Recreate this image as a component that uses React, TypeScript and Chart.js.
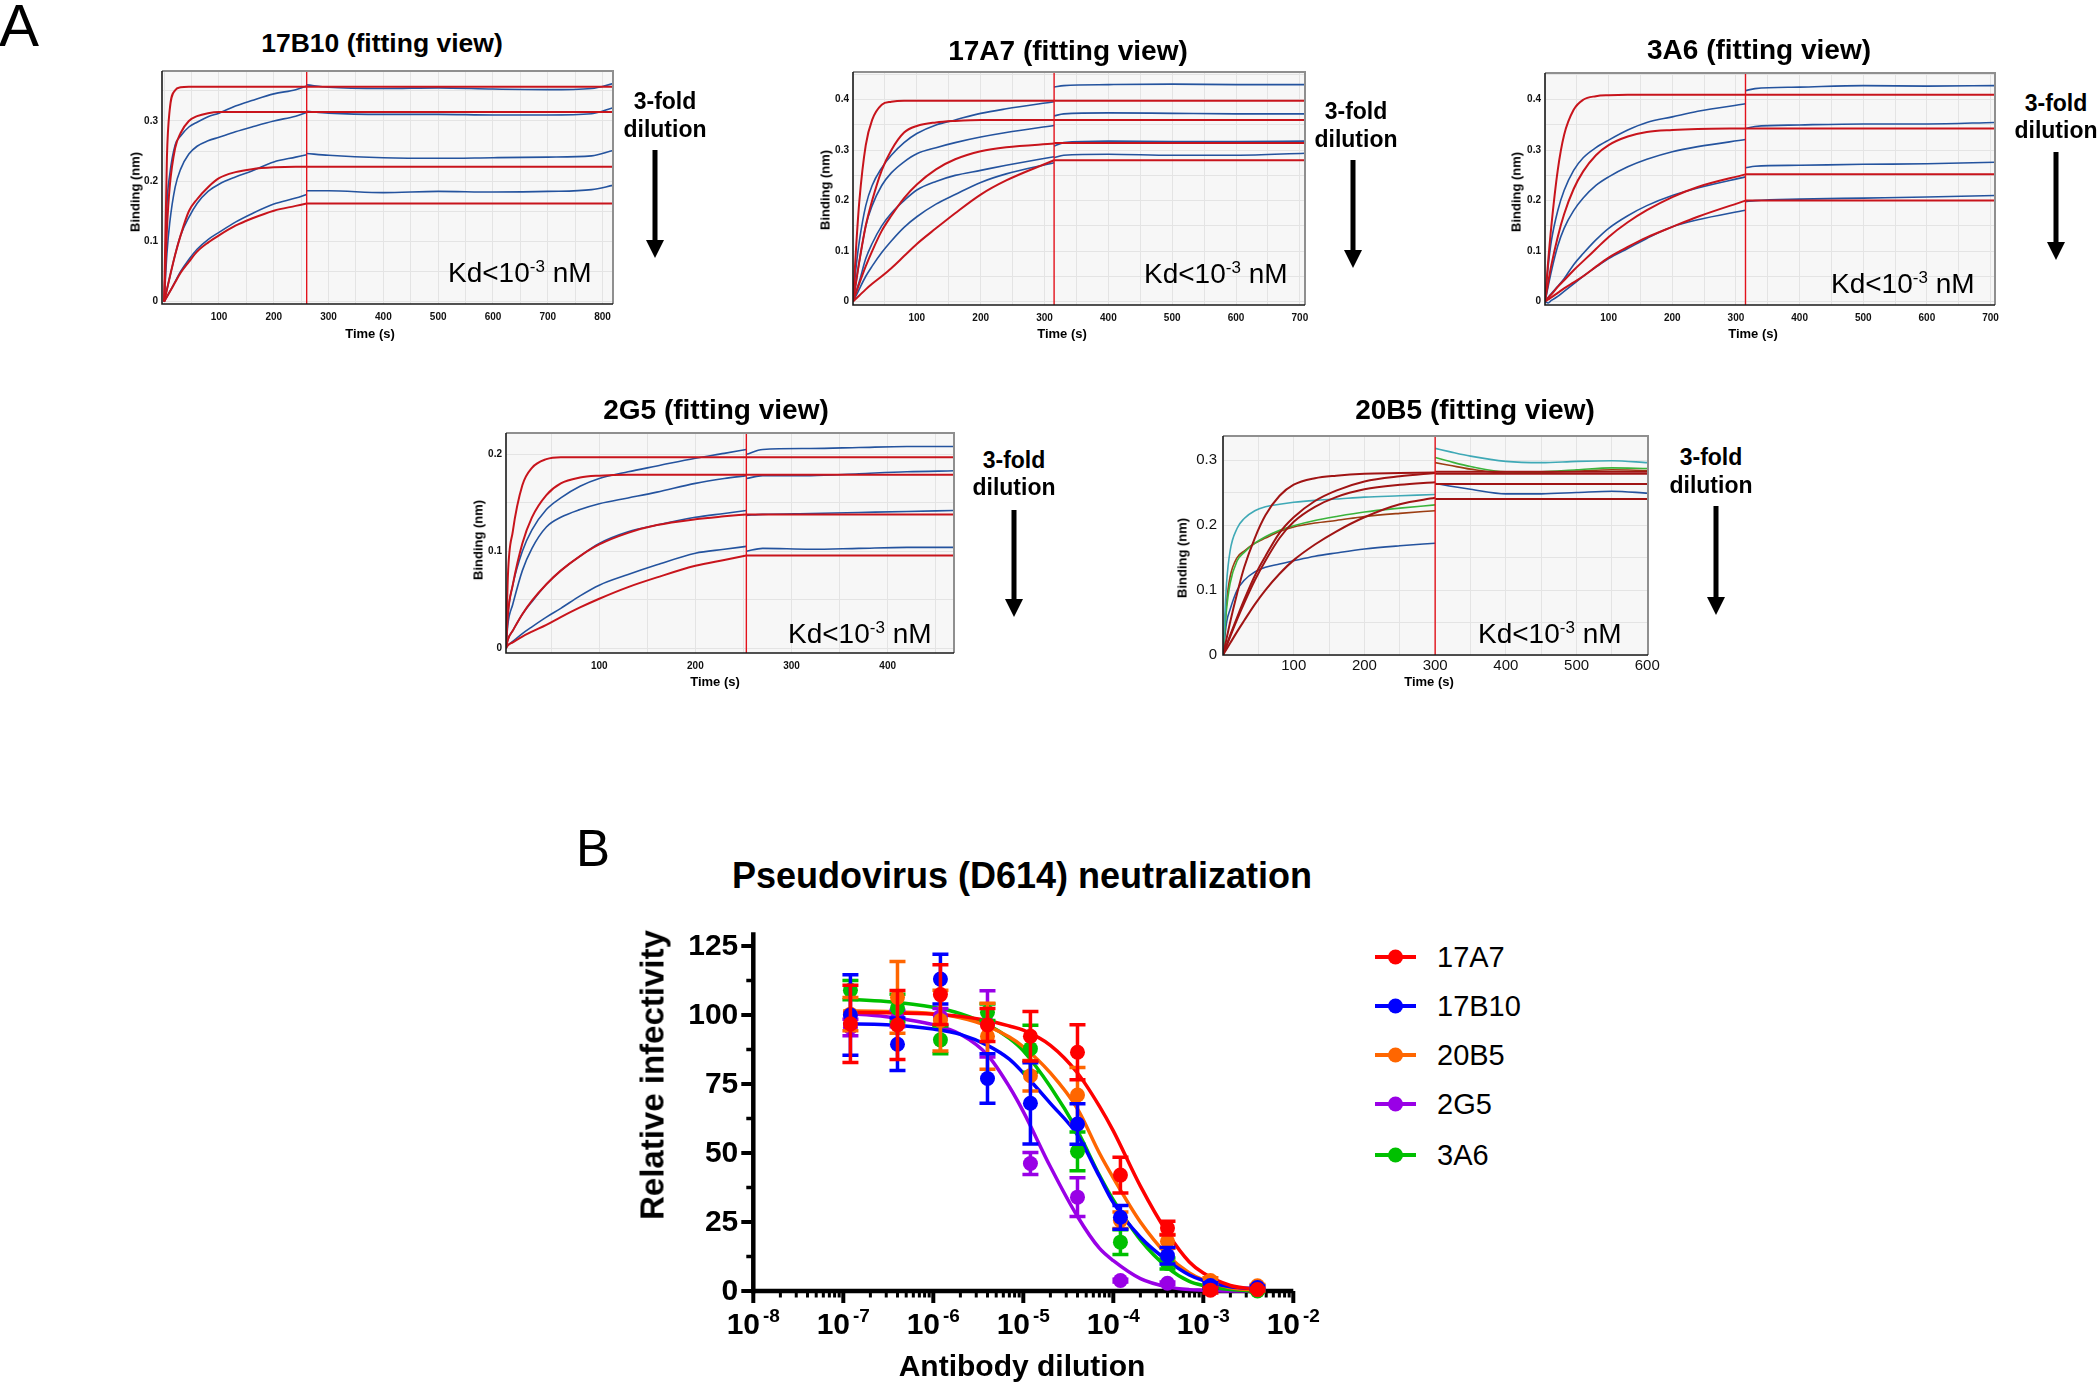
import React, { useEffect, useRef } from 'react';
import { Chart, registerables } from 'chart.js';
Chart.register(...registerables);

const FONT = "'Liberation Sans', Arial, Helvetica, sans-serif";
Chart.defaults.font.family = FONT;
Chart.defaults.color = '#000';

// ================= PANEL A DATA (sensorgrams) =================
// ---- 17B10 ----
const T_ASSOC_17B10 = [0, 5, 10, 20, 30, 45, 60, 80, 100, 130, 160, 200, 240, 260];
const FIT_17B10 = [
  [0, 0.24, 0.318, 0.351, 0.356, 0.357, 0.357, 0.357, 0.357, 0.357, 0.357, 0.357, 0.357, 0.357],
  [0, 0.12, 0.19, 0.255, 0.28, 0.3, 0.308, 0.313, 0.315, 0.315, 0.315, 0.315, 0.315, 0.315],
  [0, 0.02, 0.04, 0.078, 0.11, 0.15, 0.17, 0.19, 0.205, 0.215, 0.22, 0.223, 0.224, 0.224],
  [0, 0.008, 0.016, 0.032, 0.048, 0.066, 0.083, 0.098, 0.11, 0.126, 0.138, 0.151, 0.159, 0.163],
];
const TRACE_17B10 = [
  [0, 0.16, 0.21, 0.26, 0.275, 0.29, 0.298, 0.307, 0.313, 0.325, 0.334, 0.345, 0.352, 0.358],
  [0, 0.08, 0.13, 0.19, 0.22, 0.245, 0.258, 0.267, 0.273, 0.282, 0.29, 0.3, 0.308, 0.314],
  [0, 0.02, 0.04, 0.078, 0.11, 0.14, 0.163, 0.183, 0.195, 0.207, 0.217, 0.232, 0.24, 0.244],
  [0, 0.008, 0.016, 0.033, 0.05, 0.07, 0.087, 0.103, 0.115, 0.132, 0.146, 0.162, 0.172, 0.178],
];
const T_DISS_17B10 = [260, 300, 400, 500, 600, 700, 780, 819];
const TRACE_DISS_17B10 = [
  [0.36, 0.356, 0.354, 0.355, 0.353, 0.352, 0.354, 0.362],
  [0.316, 0.313, 0.311, 0.311, 0.31, 0.31, 0.312, 0.322],
  [0.246, 0.243, 0.239, 0.238, 0.239, 0.24, 0.242, 0.251],
  [0.184, 0.184, 0.181, 0.183, 0.182, 0.183, 0.186, 0.193],
];
const FIT_DISS_17B10 = [0.357, 0.315, 0.224, 0.163];
const STEP_17B10 = 260;

// ---- 17A7 ----
const T_ASSOC_17A7 = [0, 5, 10, 20, 30, 45, 60, 80, 100, 130, 160, 200, 240, 315];
const FIT_17A7 = [
  [0, 0.11, 0.2, 0.31, 0.36, 0.39, 0.396, 0.398, 0.398, 0.398, 0.398, 0.398, 0.398, 0.398],
  [0, 0.04, 0.08, 0.15, 0.2, 0.26, 0.3, 0.335, 0.348, 0.355, 0.358, 0.36, 0.36, 0.36],
  [0, 0.018, 0.036, 0.07, 0.1, 0.14, 0.17, 0.205, 0.232, 0.262, 0.282, 0.298, 0.306, 0.313],
  [0, 0.006, 0.012, 0.024, 0.035, 0.05, 0.066, 0.09, 0.114, 0.145, 0.175, 0.212, 0.24, 0.28],
];
const TRACE_17A7 = [
  [0, 0.07, 0.12, 0.19, 0.23, 0.265, 0.29, 0.315, 0.333, 0.35, 0.36, 0.373, 0.382, 0.396],
  [0, 0.04, 0.08, 0.15, 0.19, 0.23, 0.255, 0.277, 0.293, 0.305, 0.315, 0.326, 0.335, 0.349],
  [0, 0.02, 0.04, 0.085, 0.115, 0.15, 0.175, 0.2, 0.221, 0.238, 0.25, 0.26, 0.27, 0.287],
  [0, 0.012, 0.025, 0.05, 0.07, 0.097, 0.12, 0.147, 0.168, 0.193, 0.212, 0.236, 0.253, 0.275],
];
const T_DISS_17A7 = [315, 330, 400, 500, 600, 708];
const TRACE_DISS_17A7 = [
  [0.425, 0.428, 0.43, 0.431, 0.43, 0.43],
  [0.368, 0.372, 0.374, 0.373, 0.372, 0.372],
  [0.308, 0.315, 0.318, 0.317, 0.317, 0.318],
  [0.285, 0.29, 0.292, 0.29, 0.29, 0.294],
];
const FIT_DISS_17A7 = [0.398, 0.36, 0.314, 0.28];
const STEP_17A7 = 315;

// ---- 3A6 ----
const T_ASSOC_3A6 = [0, 5, 10, 20, 30, 45, 60, 80, 100, 130, 160, 200, 240, 315];
const FIT_3A6 = [
  [0, 0.08, 0.15, 0.26, 0.33, 0.38, 0.4, 0.407, 0.409, 0.41, 0.41, 0.41, 0.41, 0.41],
  [0, 0.038, 0.072, 0.128, 0.173, 0.223, 0.258, 0.29, 0.31, 0.327, 0.336, 0.34, 0.342, 0.343],
  [0, 0.007, 0.014, 0.029, 0.042, 0.062, 0.08, 0.104, 0.128, 0.157, 0.181, 0.207, 0.227, 0.252],
  [0, 0.004, 0.008, 0.017, 0.026, 0.038, 0.05, 0.069, 0.087, 0.108, 0.127, 0.148, 0.168, 0.2],
];
const TRACE_3A6 = [
  [0, 0.07, 0.12, 0.18, 0.22, 0.26, 0.285, 0.305, 0.32, 0.34, 0.355, 0.366, 0.377, 0.392],
  [0, 0.03, 0.06, 0.11, 0.145, 0.18, 0.205, 0.23, 0.247, 0.267, 0.282, 0.297, 0.307, 0.321],
  [0, 0.008, 0.016, 0.03, 0.045, 0.073, 0.095, 0.122, 0.145, 0.17, 0.19, 0.21, 0.225, 0.247],
  [0, -0.003, 0.002, 0.01, 0.02, 0.035, 0.05, 0.068, 0.085, 0.105, 0.125, 0.148, 0.162, 0.181],
];
const T_DISS_3A6 = [315, 330, 400, 500, 600, 707];
const TRACE_DISS_3A6 = [
  [0.418, 0.422, 0.425, 0.428, 0.427, 0.428],
  [0.343, 0.347, 0.35, 0.352, 0.352, 0.355],
  [0.265, 0.268, 0.27, 0.272, 0.273, 0.276],
  [0.198, 0.2, 0.203, 0.205, 0.207, 0.21],
];
const FIT_DISS_3A6 = [0.41, 0.343, 0.252, 0.2];
const STEP_3A6 = 315;

// ---- 2G5 ----
const T_ASSOC_2G5 = [3, 5, 10, 20, 30, 45, 60, 80, 100, 130, 160, 200, 230, 253];
const FIT_2G5 = [
  [0, 0.075, 0.12, 0.168, 0.186, 0.195, 0.197, 0.197, 0.197, 0.197, 0.197, 0.197, 0.197, 0.197],
  [0, 0.035, 0.065, 0.108, 0.135, 0.158, 0.17, 0.176, 0.178, 0.179, 0.179, 0.179, 0.179, 0.179],
  [0, 0.009, 0.018, 0.035, 0.049, 0.066, 0.08, 0.095, 0.107, 0.119, 0.127, 0.133, 0.136, 0.138],
  [0, 0.003, 0.006, 0.012, 0.017, 0.024, 0.032, 0.042, 0.051, 0.063, 0.073, 0.085, 0.091, 0.0955],
];
const TRACE_2G5 = [
  [0, 0.035, 0.065, 0.1, 0.122, 0.143, 0.155, 0.167, 0.175, 0.182, 0.188, 0.196, 0.201, 0.205],
  [0, 0.025, 0.045, 0.08, 0.103, 0.125, 0.135, 0.143, 0.149, 0.155, 0.161, 0.17, 0.175, 0.178],
  [0, 0.009, 0.018, 0.035, 0.048, 0.066, 0.08, 0.095, 0.108, 0.12, 0.127, 0.135, 0.139, 0.142],
  [0, 0.003, 0.007, 0.015, 0.022, 0.032, 0.041, 0.054, 0.065, 0.076, 0.086, 0.098, 0.102, 0.105],
];
const T_DISS_2G5 = [253, 270, 320, 370, 420, 469];
const TRACE_DISS_2G5 = [
  [0.2, 0.205, 0.206, 0.207, 0.208, 0.208],
  [0.175, 0.178, 0.178, 0.18, 0.182, 0.183],
  [0.137, 0.138, 0.139, 0.14, 0.141, 0.142],
  [0.1, 0.103, 0.102, 0.103, 0.104, 0.104],
];
const FIT_DISS_2G5 = [0.197, 0.179, 0.138, 0.0955];
const STEP_2G5 = 253;

// ---- 20B5 ----
const T_ASSOC_20B5 = [0, 5, 10, 20, 30, 45, 60, 80, 100, 130, 160, 200, 250, 300];
const FIT_20B5 = [
  [0, 0.025, 0.05, 0.095, 0.135, 0.18, 0.215, 0.245, 0.262, 0.272, 0.276, 0.279, 0.28, 0.281],
  [0, 0.015, 0.03, 0.058, 0.085, 0.122, 0.152, 0.188, 0.212, 0.237, 0.253, 0.267, 0.275, 0.28],
  [0, 0.014, 0.028, 0.055, 0.08, 0.115, 0.145, 0.18, 0.205, 0.228, 0.243, 0.255, 0.262, 0.266],
  [0, 0.009, 0.018, 0.036, 0.053, 0.078, 0.1, 0.125, 0.146, 0.17, 0.19, 0.212, 0.232, 0.242],
];
const TRACE_20B5 = [
  [0, 0.11, 0.16, 0.195, 0.21, 0.222, 0.228, 0.232, 0.235, 0.238, 0.24, 0.243, 0.245, 0.247],
  [0, 0.07, 0.11, 0.145, 0.158, 0.172, 0.182, 0.192, 0.199, 0.207, 0.213, 0.22, 0.226, 0.231],
  [0, 0.08, 0.12, 0.15, 0.16, 0.172, 0.18, 0.19, 0.197, 0.203, 0.207, 0.213, 0.218, 0.222],
  [0, 0.05, 0.07, 0.1, 0.115, 0.128, 0.135, 0.14, 0.145, 0.152, 0.157, 0.163, 0.168, 0.172],
];
const T_DISS_20B5 = [300, 320, 350, 400, 450, 500, 550, 601];
const TRACE_DISS_20B5 = [
  [0.318, 0.313, 0.306, 0.298, 0.296, 0.298, 0.299, 0.296],
  [0.304, 0.298, 0.29, 0.282, 0.282, 0.285, 0.288, 0.287],
  [0.296, 0.292, 0.286, 0.28, 0.281, 0.283, 0.285, 0.284],
  [0.264, 0.26, 0.255, 0.248, 0.248, 0.25, 0.252, 0.249],
];
const FIT_DISS_20B5 = [0.282, 0.279, 0.263, 0.24];
const STEP_20B5 = 300;

// axis tick values
const X_GRID_800 = [0, 50, 100, 150, 200, 250, 300, 350, 400, 450, 500, 550, 600, 650, 700, 750, 800];
const X_LABELS_800 = [100, 200, 300, 400, 500, 600, 700, 800];
const X_GRID_700 = [0, 50, 100, 150, 200, 250, 300, 350, 400, 450, 500, 550, 600, 650, 700];
const X_LABELS_700 = [100, 200, 300, 400, 500, 600, 700];
const X_GRID_450 = [50, 100, 150, 200, 250, 300, 350, 400, 450];
const X_LABELS_400 = [100, 200, 300, 400];
const X_GRID_600 = [0, 50, 100, 150, 200, 250, 300, 350, 400, 450, 500, 550, 600];
const X_LABELS_600 = [100, 200, 300, 400, 500, 600];
const Y_GRID_035 = [0, 0.05, 0.1, 0.15, 0.2, 0.25, 0.3, 0.35];
const Y_GRID_045 = [0, 0.05, 0.1, 0.15, 0.2, 0.25, 0.3, 0.35, 0.4, 0.45];
const Y_GRID_020 = [0, 0.05, 0.1, 0.15, 0.2];
const Y_GRID_030 = [0, 0.05, 0.1, 0.15, 0.2, 0.25, 0.3];
const Y_LABELS_03 = [0, 0.1, 0.2, 0.3];
const Y_LABELS_04 = [0, 0.1, 0.2, 0.3, 0.4];
const Y_LABELS_02 = [0, 0.1, 0.2];

// ================= PANEL B DATA (neutralization) =================
const DILUTIONS = [1.2e-7, 4e-7, 1.2e-6, 4e-6, 1.2e-5, 4e-5, 1.2e-4, 4e-4, 1.2e-3, 4e-3];
const Y_17A7 = [96.8, 96.4, 107.4, 96.4, 92.3, 86.5, 42, 22.8, 0.3, 0.5];
const ERR_17A7 = [14, 12.5, 10.8, 6, 9, 10, 6.5, 2.5, 1, 0.5];
const Y_17B10 = [100, 89.4, 113, 77, 68, 60.5, 26.7, 12.8, 2, 1.3];
const ERR_17B10 = [14.6, 9.5, 9, 9, 14.7, 7.3, 4.3, 3, 1, 0.5];
const Y_20B5 = [100.3, 106.4, 98, 92.3, 78, 71, 25.6, 18, 3.8, 1.9];
const ERR_20B5 = [6, 13, 11, 12, 5.5, 10, 3, 2.5, 1, 0.5];
const Y_2G5 = [95.5, 98.7, 99.4, 96.8, 46.2, 34, 3.8, 2.8, 0.6, 0.3];
const ERR_2G5 = [3, 3, 3, 12, 4, 7, 0.5, 0.5, 0.3, 0.2];
const Y_3A6 = [109, 102.5, 91, 101, 87.8, 50.6, 17.7, 10, 1.3, 0];
const ERR_3A6 = [3.5, 5, 5, 3, 8.5, 7, 4.5, 2, 0.5, 0.3];

const CURVE_X = [1e-7, 3e-7, 1e-6, 2e-6, 4e-6, 7e-6, 1e-5, 2e-5, 4e-5, 7e-5, 1e-4, 2e-4, 4e-4, 7e-4, 1e-3, 2e-3, 4e-3];
const CURVE_17A7 = [101, 100.8, 100.3, 99.5, 98, 96, 94.5, 89, 79, 67, 58, 38, 21, 10.5, 6.5, 2, 0.6];
const CURVE_17B10 = [96.8, 96.5, 94.9, 93, 89, 84, 79, 68, 56.5, 41.5, 32, 19.5, 11, 5.8, 3.8, 1.5, 0.8];
const CURVE_20B5 = [101.5, 101.3, 100.5, 99, 96, 92, 88.5, 79, 66, 50, 41, 25, 13, 6.5, 4, 1.2, 0.3];
const CURVE_2G5 = [100.6, 99.4, 96.5, 93, 85.5, 74, 65, 45, 27, 15.5, 11, 4.5, 1.5, 0.5, 0.3, 0, 0];
const CURVE_3A6 = [105.8, 104.9, 102.8, 100.5, 96.5, 91.5, 87, 74, 58, 42, 33, 18.5, 8.5, 3.5, 2, 0.5, 0];

const SERIES_NAMES_B = ['17A7', '17B10', '20B5', '2G5', '3A6'];
const Y_TICKS_B = [0, 25, 50, 75, 100, 125];
const X_DECADES_B = [1e-8, 1e-7, 1e-6, 1e-5, 1e-4, 1e-3, 1e-2];
const X_EXP_LABELS_B = ['-8', '-7', '-6', '-5', '-4', '-3', '-2'];
const Y_MAX_B = 130;

// ================= STYLE / LAYOUT =================
const FIT_RED = '#c8141c';
const FIT_DARK = '#a01414';
const TRACE_BLUE = '#24539e';
const STEP_RED = '#e3121b';
const PLOT_BG = '#f7f7f7';
const GRID_C = '#e4e4e4';
const COLORS_B = ['#ff0000', '#0000ff', '#ff6600', '#9900e6', '#00c000'];
const M_L = 40, M_T = 12, M_R = 24, M_B = 26;

const PANELS = [
  {
    name: '17B10', plot: { l: 162, t: 71, r: 613, b: 304 }, xMin: -4, xMax: 819, yMin: -0.004, yMax: 0.383,
    xGrid: X_GRID_800, xLabels: X_LABELS_800, yGrid: Y_GRID_035, yLabels: Y_LABELS_03, step: STEP_17B10,
    tAssoc: T_ASSOC_17B10, fits: FIT_17B10, traces: TRACE_17B10, tDiss: T_DISS_17B10, tracesDiss: TRACE_DISS_17B10, fitDiss: FIT_DISS_17B10,
    fitColor: FIT_RED, traceColors: [TRACE_BLUE, TRACE_BLUE, TRACE_BLUE, TRACE_BLUE],
    tickFont: { size: 10, weight: 'bold' }, xPad: 7, yPad: 4, titleSize: 26.5,
    title: { x: 382, y: 43 }, time: { x: 370, y: 333 }, binding: { x: 135, y: 192 },
    fold: { x: 665, y1: 101, y2: 129 }, arrow: { x: 655, y1: 150, y2: 258 }, kd: { x: 448, y: 273 },
  },
  {
    name: '17A7', plot: { l: 853, t: 72, r: 1305, b: 305 }, xMin: 0, xMax: 708, yMin: -0.007, yMax: 0.455,
    xGrid: X_GRID_700, xLabels: X_LABELS_700, yGrid: Y_GRID_045, yLabels: Y_LABELS_04, step: STEP_17A7,
    tAssoc: T_ASSOC_17A7, fits: FIT_17A7, traces: TRACE_17A7, tDiss: T_DISS_17A7, tracesDiss: TRACE_DISS_17A7, fitDiss: FIT_DISS_17A7,
    fitColor: FIT_RED, traceColors: [TRACE_BLUE, TRACE_BLUE, TRACE_BLUE, TRACE_BLUE],
    tickFont: { size: 10, weight: 'bold' }, xPad: 7, yPad: 4, titleSize: 28,
    title: { x: 1068, y: 51 }, time: { x: 1062, y: 333 }, binding: { x: 825, y: 190 },
    fold: { x: 1356, y1: 111, y2: 139 }, arrow: { x: 1353, y1: 160, y2: 268 }, kd: { x: 1144, y: 274 },
  },
  {
    name: '3A6', plot: { l: 1545, t: 73, r: 1995, b: 305 }, xMin: 0, xMax: 707, yMin: -0.007, yMax: 0.453,
    xGrid: X_GRID_700, xLabels: X_LABELS_700, yGrid: Y_GRID_045, yLabels: Y_LABELS_04, step: STEP_3A6,
    tAssoc: T_ASSOC_3A6, fits: FIT_3A6, traces: TRACE_3A6, tDiss: T_DISS_3A6, tracesDiss: TRACE_DISS_3A6, fitDiss: FIT_DISS_3A6,
    fitColor: FIT_RED, traceColors: [TRACE_BLUE, TRACE_BLUE, TRACE_BLUE, TRACE_BLUE],
    tickFont: { size: 10, weight: 'bold' }, xPad: 7, yPad: 4, titleSize: 28,
    title: { x: 1759, y: 50 }, time: { x: 1753, y: 333 }, binding: { x: 1516, y: 192 },
    fold: { x: 2056, y1: 103, y2: 130 }, arrow: { x: 2056, y1: 152, y2: 260 }, kd: { x: 1831, y: 284 },
  },
  {
    name: '2G5', plot: { l: 506, t: 433, r: 954, b: 653 }, xMin: 3, xMax: 469, yMin: -0.005, yMax: 0.222,
    xGrid: X_GRID_450, xLabels: X_LABELS_400, yGrid: Y_GRID_020, yLabels: Y_LABELS_02, step: STEP_2G5,
    tAssoc: T_ASSOC_2G5, fits: FIT_2G5, traces: TRACE_2G5, tDiss: T_DISS_2G5, tracesDiss: TRACE_DISS_2G5, fitDiss: FIT_DISS_2G5,
    fitColor: FIT_RED, traceColors: [TRACE_BLUE, TRACE_BLUE, TRACE_BLUE, TRACE_BLUE],
    tickFont: { size: 10, weight: 'bold' }, xPad: 7, yPad: 4, titleSize: 28,
    title: { x: 716, y: 410 }, time: { x: 715, y: 681 }, binding: { x: 478, y: 540 },
    fold: { x: 1014, y1: 460, y2: 487 }, arrow: { x: 1014, y1: 510, y2: 617 }, kd: { x: 788, y: 634 },
  },
  {
    name: '20B5', plot: { l: 1223, t: 433, r: 1648, b: 655 }, xMin: 0, xMax: 601, yMin: 0, yMax: 0.337,
    xGrid: X_GRID_600, xLabels: X_LABELS_600, yGrid: Y_GRID_030, yLabels: Y_LABELS_03, step: STEP_20B5,
    tAssoc: T_ASSOC_20B5, fits: FIT_20B5, traces: TRACE_20B5, tDiss: T_DISS_20B5, tracesDiss: TRACE_DISS_20B5, fitDiss: FIT_DISS_20B5,
    fitColor: FIT_DARK, traceColors: ['#3fa9b6', '#3bb33b', '#9b3d12', TRACE_BLUE],
    tickFont: { size: 15, weight: 'normal' }, xPad: 2, yPad: 6, titleSize: 28,
    title: { x: 1475, y: 410 }, time: { x: 1429, y: 681 }, binding: { x: 1182, y: 558 },
    fold: { x: 1711, y1: 457, y2: 485 }, arrow: { x: 1716, y1: 506, y2: 615 }, kd: { x: 1478, y: 634 },
  },
];

// ================= PLUGINS =================
const framePlugin = {
  id: 'frame',
  beforeDraw(chart: any) {
    const { ctx, chartArea: a } = chart;
    ctx.save();
    ctx.fillStyle = PLOT_BG;
    ctx.fillRect(a.left, a.top, a.right - a.left, a.bottom - a.top);
    ctx.restore();
  },
  afterDatasetsDraw(chart: any) {
    const { ctx, chartArea: a } = chart;
    ctx.save();
    ctx.strokeStyle = '#8f8f8f';
    ctx.lineWidth = 2;
    ctx.beginPath();
    ctx.moveTo(a.left, a.top);
    ctx.lineTo(a.right, a.top);
    ctx.lineTo(a.right, a.bottom);
    ctx.stroke();
    ctx.strokeStyle = '#1a1a1a';
    ctx.lineWidth = 1.6;
    ctx.beginPath();
    ctx.moveTo(a.left, a.top);
    ctx.lineTo(a.left, a.bottom);
    ctx.lineTo(a.right, a.bottom);
    ctx.stroke();
    ctx.restore();
  },
};

const errorBarsPlugin = {
  id: 'errorBars',
  beforeDatasetDraw(chart: any, args: any) {
    const ds = chart.data.datasets[args.index];
    if (!ds.errorBars) return;
    const ys = chart.scales.y;
    const ctx = chart.ctx;
    ctx.save();
    ctx.strokeStyle = ds.borderColor;
    ctx.lineWidth = 3.5;
    args.meta.data.forEach((pt: any, i: number) => {
      const v = ds.data[i].y;
      const e = ds.errorBars[i];
      if (!e) return;
      const yT = ys.getPixelForValue(v + e);
      const yB = ys.getPixelForValue(v - e);
      ctx.beginPath();
      ctx.moveTo(pt.x, yT);
      ctx.lineTo(pt.x, yB);
      ctx.moveTo(pt.x - 8, yT);
      ctx.lineTo(pt.x + 8, yT);
      ctx.moveTo(pt.x - 8, yB);
      ctx.lineTo(pt.x + 8, yB);
      ctx.stroke();
    });
    ctx.restore();
  },
};

const axesBPlugin = {
  id: 'axesB',
  beforeDatasetsDraw(chart: any) {
    const { ctx } = chart;
    const xs = chart.scales.x;
    const ys = chart.scales.y;
    const ax = xs.getPixelForValue(X_DECADES_B[0]);
    const axEnd = xs.getPixelForValue(X_DECADES_B[X_DECADES_B.length - 1]);
    const ay = ys.getPixelForValue(0);
    const ayTop = ys.getPixelForValue(Y_MAX_B);
    ctx.save();
    ctx.strokeStyle = '#000';
    ctx.fillStyle = '#000';
    ctx.lineCap = 'butt';
    const seg = (x1: number, y1: number, x2: number, y2: number, w: number) => {
      ctx.lineWidth = w;
      ctx.beginPath();
      ctx.moveTo(x1, y1);
      ctx.lineTo(x2, y2);
      ctx.stroke();
    };
    seg(ax, ayTop, ax, ay + 2.25, 4.5);
    seg(ax - 2.25, ay, axEnd, ay, 4.5);
    Y_TICKS_B.forEach((v) => {
      const py = ys.getPixelForValue(v);
      seg(ax, py, ax - 12, py, 4);
    });
    for (let i = 0; i < Y_TICKS_B.length - 1; i++) {
      const py = ys.getPixelForValue((Y_TICKS_B[i] + Y_TICKS_B[i + 1]) / 2);
      seg(ax, py, ax - 7, py, 3.5);
    }
    X_DECADES_B.forEach((d, k) => {
      const px = xs.getPixelForValue(d);
      seg(px, ay, px, ay + 12, 4);
      if (k < X_DECADES_B.length - 1) {
        for (let m = 2; m <= 9; m++) {
          const pm = xs.getPixelForValue(d * m);
          seg(pm, ay, pm, ay + 6.5, 3);
        }
      }
    });
    ctx.font = `bold 30px ${FONT}`;
    ctx.textAlign = 'right';
    ctx.textBaseline = 'middle';
    Y_TICKS_B.forEach((v) => ctx.fillText(String(v), ax - 15, ys.getPixelForValue(v) + 1));
    ctx.textBaseline = 'alphabetic';
    ctx.textAlign = 'left';
    X_DECADES_B.forEach((d, k) => {
      const px = xs.getPixelForValue(d);
      ctx.font = `bold 30px ${FONT}`;
      const w1 = ctx.measureText('10').width;
      ctx.font = `bold 19px ${FONT}`;
      const w2 = ctx.measureText(X_EXP_LABELS_B[k]).width;
      const gap = 3;
      const x0 = px - (w1 + gap + w2) / 2;
      const base = ay + 43;
      ctx.font = `bold 30px ${FONT}`;
      ctx.fillText('10', x0, base);
      ctx.font = `bold 19px ${FONT}`;
      ctx.fillText(X_EXP_LABELS_B[k], x0 + w1 + gap, base - 12);
    });
    ctx.restore();
  },
};

// ================= COMPONENTS =================
function Txt({ x, y, size, bold, children, align = 'center', rotate = false }: any) {
  let transform = 'translate(-50%, -50%)';
  if (align === 'left') transform = 'translate(0, -50%)';
  if (rotate) transform = 'translate(-50%, -50%) rotate(-90deg)';
  return (
    <div
      style={{
        position: 'absolute', left: x, top: y, transform, fontSize: size, lineHeight: 1,
        fontWeight: bold ? 'bold' : 'normal', whiteSpace: 'nowrap', fontFamily: FONT, color: '#000',
      }}
    >
      {children}
    </div>
  );
}

function Arrow({ x, y1, y2 }: any) {
  const hw = 9, hh = 18, sw = 5;
  const h = y2 - y1;
  return (
    <svg style={{ position: 'absolute', left: x - hw, top: y1, overflow: 'visible' }} width={2 * hw} height={h}>
      <rect x={hw - sw / 2} y={0} width={sw} height={h - hh + 1} fill="#000" />
      <polygon points={`0,${h - hh} ${2 * hw},${h - hh} ${hw},${h}`} fill="#000" />
    </svg>
  );
}

function Sensorgram({ p }: any) {
  const ref = useRef<HTMLCanvasElement>(null);
  const w = p.plot.r - p.plot.l + M_L + M_R;
  const h = p.plot.b - p.plot.t + M_T + M_B;
  useEffect(() => {
    const datasets: any[] = [];
    const base = { pointRadius: 0, pointHoverRadius: 0, fill: false };
    datasets.push({ ...base, data: [{ x: p.step, y: p.yMin }, { x: p.step, y: p.yMax }], borderColor: STEP_RED, borderWidth: 1.4 });
    p.fits.forEach((vals: number[], i: number) => {
      datasets.push({ ...base, data: p.tAssoc.map((t: number, j: number) => ({ x: t, y: vals[j] })), borderColor: p.fitColor, borderWidth: 2, cubicInterpolationMode: 'monotone' });
      datasets.push({ ...base, data: [{ x: p.step, y: p.fitDiss[i] }, { x: p.xMax, y: p.fitDiss[i] }], borderColor: p.fitColor, borderWidth: 2 });
    });
    p.traces.forEach((vals: number[], i: number) => {
      datasets.push({ ...base, data: p.tAssoc.map((t: number, j: number) => ({ x: t, y: vals[j] })), borderColor: p.traceColors[i], borderWidth: 1.6, cubicInterpolationMode: 'monotone' });
      datasets.push({ ...base, data: p.tDiss.map((t: number, j: number) => ({ x: t, y: p.tracesDiss[i][j] })), borderColor: p.traceColors[i], borderWidth: 1.6, cubicInterpolationMode: 'monotone' });
    });
    const chart = new Chart(ref.current as HTMLCanvasElement, {
      type: 'line',
      data: { datasets },
      options: {
        responsive: false, animation: false, events: [],
        layout: { padding: { left: 0, top: M_T, right: M_R, bottom: 0 } },
        plugins: { legend: { display: false }, tooltip: { enabled: false } },
        scales: {
          x: {
            type: 'linear', min: p.xMin, max: p.xMax,
            afterBuildTicks: (s: any) => { s.ticks = p.xGrid.map((v: number) => ({ value: v })); },
            afterFit: (s: any) => { s.height = M_B; },
            grid: { color: GRID_C, lineWidth: 1, drawTicks: false },
            border: { display: false },
            ticks: {
              autoSkip: false, maxRotation: 0, padding: p.xPad, color: '#111', font: p.tickFont,
              callback: (v: any) => (p.xLabels.includes(v) ? String(v) : ''),
            },
          },
          y: {
            type: 'linear', min: p.yMin, max: p.yMax,
            afterBuildTicks: (s: any) => { s.ticks = p.yGrid.map((v: number) => ({ value: v })); },
            afterFit: (s: any) => { s.width = M_L; },
            grid: { color: GRID_C, lineWidth: 1, drawTicks: false },
            border: { display: false },
            ticks: {
              autoSkip: false, padding: p.yPad, color: '#111', font: p.tickFont,
              callback: (v: any) => (p.yLabels.includes(v) ? (v === 0 ? '0' : String(v)) : ''),
            },
          },
        },
      } as any,
      plugins: [framePlugin],
    });
    return () => chart.destroy();
  }, [p]);
  return (
    <>
      <canvas ref={ref} width={w} height={h} style={{ position: 'absolute', left: p.plot.l - M_L, top: p.plot.t - M_T, width: w, height: h }} />
      <Txt x={p.title.x} y={p.title.y} size={p.titleSize} bold>{p.name + ' (fitting view)'}</Txt>
      <Txt x={p.time.x} y={p.time.y} size={13} bold>Time (s)</Txt>
      <Txt x={p.binding.x} y={p.binding.y} size={13} bold rotate>Binding (nm)</Txt>
      <Txt x={p.fold.x} y={p.fold.y1} size={23} bold>3-fold</Txt>
      <Txt x={p.fold.x} y={p.fold.y2} size={23} bold>dilution</Txt>
      <Arrow x={p.arrow.x} y1={p.arrow.y1} y2={p.arrow.y2} />
      <Txt x={p.kd.x} y={p.kd.y} size={28} align="left">
        {'Kd<10'}
        <span style={{ fontSize: 17, position: 'relative', top: -10 }}>-3</span>
        {' nM'}
      </Txt>
    </>
  );
}

const B_CANVAS = { left: 670, top: 910, width: 650, height: 450 };
const B_AREA = { left: 753.3, top: 932.2, right: 1293.3, bottom: 1291 };

function Neutralization() {
  const ref = useRef<HTMLCanvasElement>(null);
  useEffect(() => {
    const ys = [Y_17A7, Y_17B10, Y_20B5, Y_2G5, Y_3A6];
    const errs = [ERR_17A7, ERR_17B10, ERR_20B5, ERR_2G5, ERR_3A6];
    const curves = [CURVE_17A7, CURVE_17B10, CURVE_20B5, CURVE_2G5, CURVE_3A6];
    const order = [0, 1, 2, 4, 3];
    const datasets: any[] = [];
    order.forEach((k) => {
      datasets.push({
        label: SERIES_NAMES_B[k], data: DILUTIONS.map((d, i) => ({ x: d, y: ys[k][i] })), errorBars: errs[k],
        showLine: false, pointRadius: 7.5, pointHoverRadius: 7.5, pointBackgroundColor: COLORS_B[k], pointBorderWidth: 0,
        borderColor: COLORS_B[k], clip: false,
      });
    });
    order.forEach((k) => {
      datasets.push({
        label: SERIES_NAMES_B[k] + ' fit', data: CURVE_X.map((d, i) => ({ x: d, y: curves[k][i] })),
        borderColor: COLORS_B[k], borderWidth: 3.5, pointRadius: 0, pointHoverRadius: 0, cubicInterpolationMode: 'monotone', clip: false,
      });
    });
    const chart = new Chart(ref.current as HTMLCanvasElement, {
      type: 'line',
      data: { datasets },
      options: {
        responsive: false, animation: false, events: [],
        layout: {
          padding: {
            left: B_AREA.left - B_CANVAS.left, top: B_AREA.top - B_CANVAS.top,
            right: B_CANVAS.left + B_CANVAS.width - B_AREA.right, bottom: B_CANVAS.top + B_CANVAS.height - B_AREA.bottom,
          },
        },
        plugins: { legend: { display: false }, tooltip: { enabled: false } },
        scales: {
          x: { type: 'logarithmic', min: X_DECADES_B[0], max: X_DECADES_B[X_DECADES_B.length - 1], display: false },
          y: { type: 'linear', min: 0, max: Y_MAX_B, display: false },
        },
      } as any,
      plugins: [axesBPlugin, errorBarsPlugin],
    });
    return () => chart.destroy();
  }, []);
  return (
    <>
      <canvas ref={ref} width={B_CANVAS.width} height={B_CANVAS.height}
        style={{ position: 'absolute', left: B_CANVAS.left, top: B_CANVAS.top, width: B_CANVAS.width, height: B_CANVAS.height }} />
      <Txt x={1022} y={876} size={36} bold>Pseudovirus (D614) neutralization</Txt>
      <Txt x={652} y={1075} size={33} bold rotate>Relative infectivity</Txt>
      <Txt x={1022} y={1366} size={30} bold>Antibody dilution</Txt>
    </>
  );
}

const LEGEND_ROWS_Y = [957, 1006, 1055, 1104, 1155];

function LegendB() {
  return (
    <>
      {SERIES_NAMES_B.map((name, i) => (
        <React.Fragment key={name}>
          <svg style={{ position: 'absolute', left: 1375, top: LEGEND_ROWS_Y[i] - 9 }} width={41} height={18}>
            <line x1={0} y1={9} x2={41} y2={9} stroke={COLORS_B[i]} strokeWidth={4} />
            <circle cx={20.5} cy={9} r={7.5} fill={COLORS_B[i]} />
          </svg>
          <Txt x={1437} y={LEGEND_ROWS_Y[i]} size={29} align="left">{name}</Txt>
        </React.Fragment>
      ))}
    </>
  );
}

export default function App() {
  return (
    <div style={{ position: 'absolute', left: 0, top: 0, width: 2100, height: 1385, background: '#fff', overflow: 'hidden', fontFamily: FONT }}>
      <Txt x={-1} y={26} size={60} align="left">A</Txt>
      <Txt x={576} y={848} size={51} align="left">B</Txt>
      {PANELS.map((p) => <Sensorgram key={p.name} p={p} />)}
      <Neutralization />
      <LegendB />
    </div>
  );
}
